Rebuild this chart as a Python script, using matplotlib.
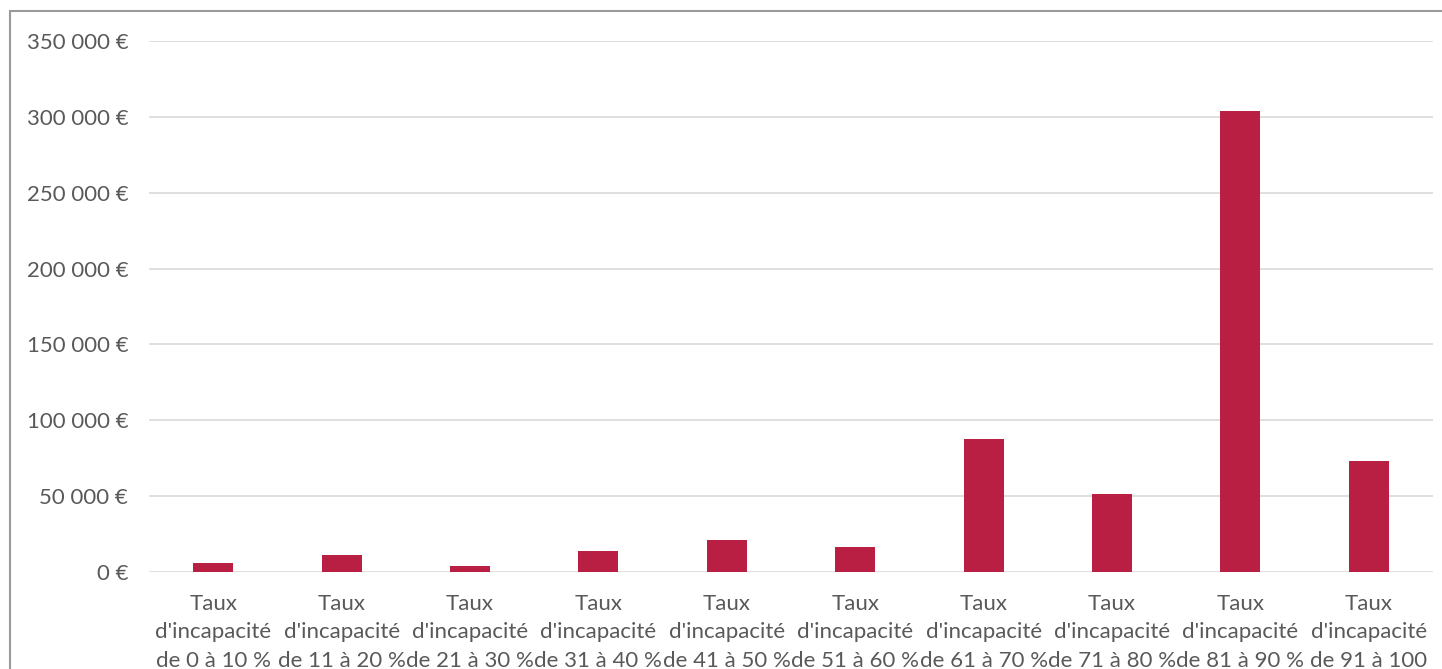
import matplotlib
matplotlib.use("Agg")
import matplotlib.pyplot as plt
from matplotlib.patches import Rectangle
from matplotlib.ticker import FuncFormatter

# Montant par tranche de taux d'incapacité
categories = [
    "Taux\nd'incapacité\nde 0 à 10 %",
    "Taux\nd'incapacité\nde 11 à 20 %",
    "Taux\nd'incapacité\nde 21 à 30 %",
    "Taux\nd'incapacité\nde 31 à 40 %",
    "Taux\nd'incapacité\nde 41 à 50 %",
    "Taux\nd'incapacité\nde 51 à 60 %",
    "Taux\nd'incapacité\nde 61 à 70 %",
    "Taux\nd'incapacité\nde 71 à 80 %",
    "Taux\nd'incapacité\nde 81 à 90 %",
    "Taux\nd'incapacité\nde 91 à 100\n%",
]
values = [6200, 11000, 4200, 14100, 21000, 16500, 87700, 51700, 304100, 73200]
y_ticks = [0, 50000, 100000, 150000, 200000, 250000, 300000, 350000]

BAR_COLOR = "#B91E43"
TEXT_COLOR = "#595959"
GRID_COLOR = "#D9D9D9"

plt.rcParams["font.family"] = ["Lato", "DejaVu Sans"]

W, H = 1442, 669
fig = plt.figure(figsize=(W / 100, H / 100), dpi=100)

# outer frame of the chart area
fig.patches.append(Rectangle((10 / W, -0.1), 1.2, 1 - 11 / H + 0.1,
                             transform=fig.transFigure, fill=False,
                             edgecolor="#9A9A9A", linewidth=1.5))

ax = fig.add_axes([149 / W, 1 - 572 / H, (1433 - 149) / W, (572 - 41) / H])

x = list(range(len(categories)))
ax.bar(x, values, width=0.31, color=BAR_COLOR, zorder=3)

ax.set_xlim(-0.5, len(categories) - 0.5)
ax.set_ylim(0, 350000)
ax.set_yticks(y_ticks)


def euro(v, pos):
    return f"{int(v):,}".replace(",", " ") + " €"


ax.yaxis.set_major_formatter(FuncFormatter(euro))
ax.set_xticks(x)
ax.set_xticklabels(categories, linespacing=1.55)

ax.grid(axis="y", color=GRID_COLOR, linewidth=1.2, zorder=0)
for s in ax.spines.values():
    s.set_visible(False)
ax.tick_params(axis="both", length=0, labelsize=16, colors=TEXT_COLOR)
ax.tick_params(axis="y", pad=15)
ax.tick_params(axis="x", pad=15.5)

fig.savefig("out.png", dpi=100)
